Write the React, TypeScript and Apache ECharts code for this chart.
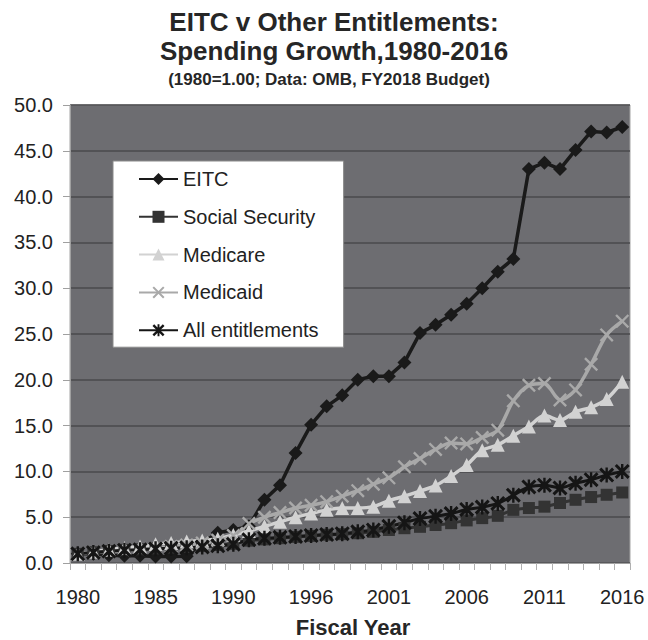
import React, { useEffect, useRef } from "react";
import * as echarts from "echarts";

// Fiscal years on the category axis (1991 is absent from the series)
const years = [
  "1980", "1981", "1982", "1983", "1984", "1985", "1986", "1987", "1988", "1989", "1990",
  "1992", "1993", "1994", "1995", "1996", "1997", "1998", "1999", "2000", "2001",
  "2002", "2003", "2004", "2005", "2006", "2007", "2008", "2009", "2010", "2011",
  "2012", "2013", "2014", "2015", "2016",
];

// Spending indexed to 1980 = 1.00
const eitc = [
  1.0, 1.0, 0.85, 0.8, 0.78, 0.72, 0.72, 0.75, 2.2, 3.3, 3.6,
  4.0, 6.9, 8.5, 12.0, 15.1, 17.1, 18.3, 20.0, 20.4, 20.4,
  21.9, 25.1, 26.0, 27.1, 28.3, 30.0, 31.8, 33.2, 43.0, 43.7,
  43.0, 45.1, 47.1, 47.0, 47.6,
];
const socialSecurity = [
  1.0, 1.18, 1.31, 1.44, 1.5, 1.59, 1.68, 1.75, 1.85, 1.97, 2.1,
  2.44, 2.58, 2.71, 2.85, 2.96, 3.09, 3.15, 3.25, 3.4, 3.6,
  3.8, 3.95, 4.15, 4.35, 4.65, 4.9, 5.15, 5.8, 6.0, 6.15,
  6.55, 6.9, 7.2, 7.45, 7.7,
];
const medicare = [
  1.0, 1.22, 1.45, 1.64, 1.79, 2.05, 2.19, 2.34, 2.46, 2.65, 3.06,
  3.5, 4.0, 4.5, 5.0, 5.4, 5.8, 6.0, 6.0, 6.15, 6.8,
  7.3, 7.85, 8.45, 9.5, 10.7, 12.3, 12.9, 13.9, 14.9, 16.1,
  15.6, 16.5, 17.0, 17.9, 19.8,
];
const medicaid = [
  1.0, 1.2, 1.24, 1.36, 1.44, 1.62, 1.79, 1.96, 2.18, 2.47, 3.0,
  4.3, 5.0, 5.5, 6.0, 6.3, 6.7, 7.3, 7.9, 8.6, 9.3,
  10.5, 11.4, 12.4, 13.1, 13.0, 13.7, 14.5, 17.7, 19.4, 19.6,
  17.8, 18.9, 21.7, 24.9, 26.4,
];
const allEntitlements = [
  1.0, 1.15, 1.28, 1.4, 1.45, 1.55, 1.62, 1.67, 1.76, 1.88, 2.05,
  2.55, 2.7, 2.8, 2.9, 3.0, 3.1, 3.2, 3.4, 3.6, 4.0,
  4.4, 4.85, 5.1, 5.4, 5.85, 6.1, 6.5, 7.4, 8.3, 8.5,
  8.2, 8.7, 9.1, 9.6, 10.0,
];

const FONT = '"Liberation Sans", Arial, Helvetica, sans-serif';

// Marker outlines: a thin "x" and an asterisk (x plus a vertical bar)
const xMark = "path://M0,1.2L1.2,0L10,8.8L8.8,10Z M8.8,0L10,1.2L1.2,10L0,8.8Z";
const starMark = "path://M0,1.4L1.4,0L10,8.6L8.6,10Z M8.6,0L10,1.4L1.4,10L0,8.6Z M4.2,0L5.8,0L5.8,10L4.2,10Z";

function lineSeries(
  name: string,
  data: number[],
  color: string,
  symbol: string,
  symbolSize: number,
  width: number,
  smooth: number | boolean
) {
  return {
    name,
    type: "line",
    data,
    symbol,
    symbolSize,
    smooth,
    showAllSymbol: true,
    lineStyle: { color, width },
    itemStyle: { color, borderWidth: 0 },
    emphasis: { disabled: true },
  };
}

export default function App() {
  const ref = useRef<HTMLDivElement>(null);

  useEffect(() => {
    if (!ref.current) return;
    const chart = echarts.init(ref.current, undefined, { renderer: "svg" });
    chart.setOption({
      animation: false,
      backgroundColor: "#ffffff",
      textStyle: { fontFamily: FONT },
      grid: {
        left: 70,
        right: 18,
        top: 105,
        bottom: 77,
        show: true,
        backgroundColor: "#6d6d71",
        borderColor: "#a4a4a4",
        borderWidth: 1,
      },
      graphic: [
        {
          type: "text",
          x: 334,
          y: 22,
          style: {
            text: "EITC v Other Entitlements:",
            font: `bold 26px ${FONT}`,
            fill: "#262626",
            align: "center",
            verticalAlign: "middle",
          },
        },
        {
          type: "text",
          x: 334,
          y: 51,
          style: {
            text: "Spending Growth,1980-2016",
            font: `bold 26px ${FONT}`,
            fill: "#262626",
            align: "center",
            verticalAlign: "middle",
          },
        },
        {
          type: "text",
          x: 329,
          y: 79,
          style: {
            text: "(1980=1.00; Data: OMB, FY2018 Budget)",
            font: `bold 17px ${FONT}`,
            fill: "#262626",
            align: "center",
            verticalAlign: "middle",
          },
        },
        {
          type: "text",
          x: 353,
          y: 627,
          style: {
            text: "Fiscal Year",
            font: `bold 22px ${FONT}`,
            fill: "#262626",
            align: "center",
            verticalAlign: "middle",
          },
        },
      ],
      legend: {
        orient: "vertical",
        left: 113,
        top: 161,
        padding: [8, 25, 7, 25],
        backgroundColor: "#ffffff",
        borderColor: "#8a8a8a",
        borderWidth: 1,
        itemWidth: 39,
        itemHeight: 15,
        itemGap: 17.8,
        textStyle: { fontSize: 20, color: "#222", fontFamily: FONT, lineHeight: 20 },
        data: ["EITC", "Social Security", "Medicare", "Medicaid", "All entitlements"],
      },
      xAxis: {
        type: "category",
        data: years,
        boundaryGap: true,
        axisLine: { lineStyle: { color: "#a0a0a0", width: 1 } },
        axisTick: { show: true, interval: 0, length: 7, lineStyle: { color: "#b0b0b0" } },
        axisLabel: { interval: 4, fontSize: 20, color: "#222", margin: 24, fontFamily: FONT },
        splitLine: { show: false },
      },
      yAxis: {
        type: "value",
        min: 0,
        max: 50,
        interval: 5,
        axisLine: { show: true, lineStyle: { color: "#a0a0a0", width: 1 } },
        axisTick: { show: true, length: 7, lineStyle: { color: "#a0a0a0" } },
        axisLabel: {
          fontSize: 20,
          color: "#222",
          margin: 17,
          fontFamily: FONT,
          formatter: (v: number) => v.toFixed(1),
        },
        splitLine: { show: true, lineStyle: { color: "#4a4a4c", width: 1.5 } },
      },
      series: [
        lineSeries("EITC", eitc, "#1a1a1a", "diamond", 14, 3.5, false),
        lineSeries("Social Security", socialSecurity, "#333333", "rect", 12, 3, 0.3),
        lineSeries("Medicare", medicare, "#d2d2d2", "triangle", 14, 3.5, 0.3),
        lineSeries("Medicaid", medicaid, "#a9a9a9", xMark, 14, 3.5, 0.3),
        lineSeries("All entitlements", allEntitlements, "#151515", starMark, 15, 3, 0.3),
      ],
    });
    return () => chart.dispose();
  }, []);

  return (
    <div
      ref={ref}
      style={{ position: "fixed", left: 0, top: 0, width: 648, height: 640 }}
    />
  );
}
